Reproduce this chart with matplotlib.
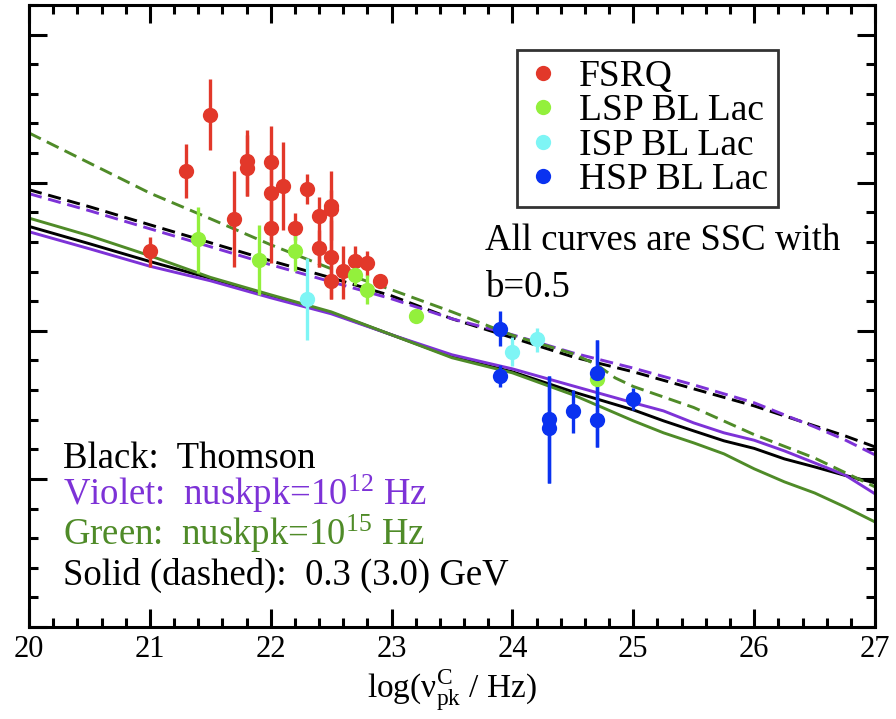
import numpy as np
import matplotlib.pyplot as plt
from matplotlib.ticker import MultipleLocator
from matplotlib.lines import Line2D

plt.rcParams['font.family'] = ['Liberation Serif', 'DejaVu Serif']
plt.rcParams['mathtext.fontset'] = 'custom'
plt.rcParams['mathtext.rm'] = 'Liberation Serif'
plt.rcParams['mathtext.it'] = 'Liberation Serif:italic'

# ---- model curves (SSC, b=0.5) ----
x_solid = [20, 20.5, 21, 21.5, 22, 22.5, 23, 23.5, 24, 24.5, 25, 25.25, 25.5,
           25.75, 26, 26.25, 26.5, 26.75, 27]
thomson_solid = [2.705, 2.588, 2.468, 2.355, 2.236, 2.122, 1.973, 1.824, 1.723,
                 1.588, 1.466, 1.392, 1.324, 1.257, 1.206, 1.135, 1.081, 1.024, 0.973]
nu12_solid = [2.669, 2.554, 2.436, 2.338, 2.223, 2.115, 1.973, 1.838, 1.743,
              1.628, 1.514, 1.459, 1.378, 1.311, 1.261, 1.189, 1.108, 1.027, 0.899]
nu15_solid = [2.761, 2.642, 2.507, 2.361, 2.243, 2.128, 1.973, 1.818, 1.716,
              1.568, 1.392, 1.311, 1.243, 1.169, 1.068, 0.980, 0.905, 0.811, 0.709]

x_dash = [20, 20.5, 21, 21.5, 22, 22.5, 23, 23.5, 24, 24.5, 25, 25.5, 26, 26.5, 26.75, 27]
thomson_dash = [2.953, 2.838, 2.716, 2.595, 2.473, 2.358, 2.236, 2.081, 1.953,
                1.824, 1.723, 1.608, 1.493, 1.358, 1.291, 1.216]
nu12_dash = [2.926, 2.811, 2.689, 2.568, 2.446, 2.331, 2.216, 2.081, 1.973,
             1.851, 1.748, 1.635, 1.514, 1.351, 1.264, 1.162]

x_dash15 = [20, 21, 21.5, 22, 22.5, 23, 23.5, 24, 24.5, 24.7, 24.85, 25, 25.5, 26, 26.5, 27]
nu15_dash = [3.336, 2.930, 2.757, 2.581, 2.419, 2.277, 2.128, 1.970, 1.845,
             1.770, 1.682, 1.624, 1.482, 1.299, 1.141, 0.946]

# ---- sources: x, y, lower end, upper end of error bar ----
fsrq_x = [21.0, 21.3, 21.5, 21.7, 21.8, 21.8, 22.0, 22.0, 22.0, 22.1, 22.3,
          22.2, 22.4, 22.4, 22.5, 22.5, 22.5, 22.5, 22.6, 22.7, 22.8, 22.9]
fsrq_y = [2.541, 3.076, 3.459, 2.757, 3.144, 3.099, 3.137, 2.934, 2.694, 2.980, 2.957,
          2.694, 2.777, 2.559, 2.840, 2.822, 2.498, 2.338, 2.401, 2.473, 2.457, 2.338]
fsrq_lo = [2.432, 2.897, 3.218, 2.434, 2.912, 2.912, 2.885, 2.615, 2.459, 2.678, 2.858,
           2.615, 2.434, 2.434, 2.615, 2.547, 2.214, 2.214, 2.214, 2.434, 2.367, 2.338]
fsrq_hi = [2.635, 3.261, 3.701, 3.076, 3.358, 3.324, 3.380, 3.223, 2.953, 3.275, 3.059,
           2.795, 2.901, 2.682, 3.076, 2.953, 2.750, 2.480, 2.576, 2.576, 2.541, 2.338]

lsp_x = [21.4, 21.9, 22.2, 22.7, 22.8, 23.2, 24.7]
lsp_y = [2.620, 2.475, 2.541, 2.378, 2.277, 2.101, 1.674]
lsp_lo = [2.389, 2.243, 2.401, 2.311, 2.182, 2.101, 1.674]
lsp_hi = [2.836, 2.716, 2.676, 2.457, 2.378, 2.101, 1.674]

isp_x = [22.3, 24.0, 24.2]
isp_y = [2.216, 1.860, 1.944]
isp_lo = [1.939, 1.759, 1.860]
isp_hi = [2.491, 1.961, 2.018]

hsp_x = [23.9, 23.9, 24.3, 24.3, 24.5, 24.7, 24.7, 25.0]
hsp_y = [2.014, 1.696, 1.403, 1.343, 1.459, 1.714, 1.399, 1.538]
hsp_lo = [1.899, 1.620, 0.975, 0.975, 1.313, 1.218, 1.218, 1.466]
hsp_hi = [2.137, 1.770, 1.696, 1.696, 1.601, 1.939, 1.939, 1.617]

c_fsrq = '#e2382a'
c_lsp = '#93f03c'
c_isp = '#7ef5f5'
c_hsp = '#0a32f0'
c_violet = '#7d32d7'
c_green = '#4f8b28'

fig = plt.figure(figsize=(8.96, 7.19), dpi=100)
ax = fig.add_axes([0.0324, 0.128, 0.9442, 0.865])

lw = 2.1
dash = (4.5, 2.3)
ax.plot(x_solid, thomson_solid, color='black', lw=lw, zorder=2)
ax.plot(x_solid, nu12_solid, color=c_violet, lw=lw, zorder=2)
ax.plot(x_solid, nu15_solid, color=c_green, lw=lw, zorder=2)
ax.plot(x_dash, thomson_dash, color='black', lw=lw, dashes=dash, zorder=2)
ax.plot(x_dash, nu12_dash, color=c_violet, lw=lw, dashes=dash, zorder=2)
ax.plot(x_dash15, nu15_dash, color=c_green, lw=lw, dashes=dash, zorder=2)


def sources(xs, ys, lo, hi, col, name):
    ys = np.array(ys)
    yerr = [ys - np.array(lo), np.array(hi) - ys]
    ax.errorbar(xs, ys, yerr=yerr, fmt='o', ms=11, color=col, ecolor=col,
                elinewidth=2.4, capsize=0, mew=0, zorder=3, label=name)


sources(fsrq_x, fsrq_y, fsrq_lo, fsrq_hi, c_fsrq, 'FSRQ')
sources(lsp_x, lsp_y, lsp_lo, lsp_hi, c_lsp, 'LSP BL Lac')
sources(isp_x, isp_y, isp_lo, isp_hi, c_isp, 'ISP BL Lac')
sources(hsp_x, hsp_y, hsp_lo, hsp_hi, c_hsp, 'HSP BL Lac')

ax.set_xlim(20, 27)
ax.set_ylim(0, 4.2)
ax.xaxis.set_major_locator(MultipleLocator(1))
ax.xaxis.set_minor_locator(MultipleLocator(0.2))
ax.yaxis.set_major_locator(MultipleLocator(1))
ax.yaxis.set_minor_locator(MultipleLocator(0.2))
ax.tick_params(which='both', direction='in', top=True, right=True, width=2.2)
ax.tick_params(which='major', length=13, labelsize=22, pad=6)
ax.tick_params(which='minor', length=6.5)
ax.tick_params(axis='y', labelleft=False)
for s in ax.spines.values():
    s.set_linewidth(2.2)

ax.set_xlabel(r'log(ν$_{\rm pk}^{\rm C}$ / Hz)', fontsize=24, labelpad=2)

handles = [Line2D([], [], ls='none', marker='o', ms=11, mew=0, color=c)
           for c in (c_fsrq, c_lsp, c_isp, c_hsp)]
leg = ax.legend(handles, ['FSRQ', 'LSP BL Lac', 'ISP BL Lac', 'HSP BL Lac'],
                loc='upper left', bbox_to_anchor=(0.577, 0.928), fontsize=27,
                frameon=True, fancybox=False, borderpad=0.25, labelspacing=0.0,
                handletextpad=0.5, handlelength=0.9, borderaxespad=0)
leg.get_frame().set_edgecolor('black')
leg.get_frame().set_linewidth(2.0)

fs = 26.5
ax.text(23.77, 2.547, 'All curves are SSC with', fontsize=fs, va='baseline')
ax.text(23.78, 2.23, 'b=0.5', fontsize=fs, va='baseline')
ax.text(20.28, 1.074, 'Black:  Thomson', fontsize=fs, va='baseline')
ax.text(20.28, 0.824, r'Violet:  nuskpk=10$^{12}$ Hz', fontsize=fs,
        va='baseline', color=c_violet)
ax.text(20.28, 0.554, r'Green:  nuskpk=10$^{15}$ Hz', fontsize=fs,
        va='baseline', color=c_green)
ax.text(20.28, 0.284, 'Solid (dashed):  0.3 (3.0) GeV', fontsize=fs, va='baseline')

fig.savefig('out.png', dpi=100)
